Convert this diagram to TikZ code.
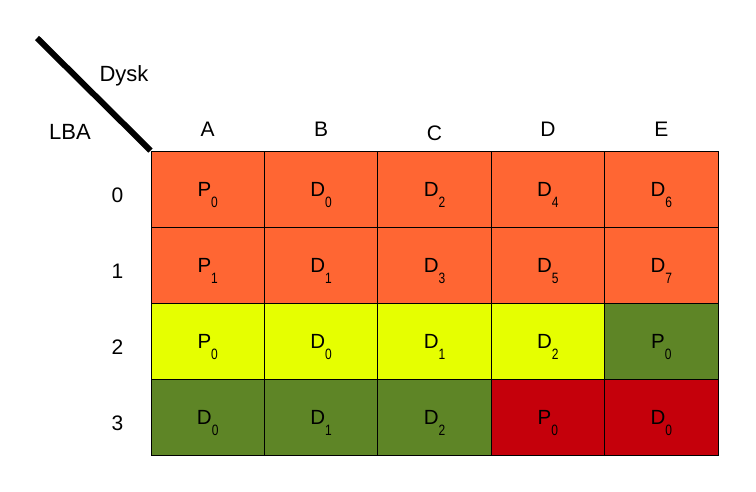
\documentclass[tikz,border=0pt]{standalone}
\usepackage{fontspec}
\setmainfont{Liberation Sans}
\usepackage{xcolor}
\usetikzlibrary{positioning}

\definecolor{raidorange}{HTML}{FF6633}
\definecolor{raidyellow}{HTML}{E6FF00}
\definecolor{raidgreen}{HTML}{5E8526}
\definecolor{raidred}{HTML}{C5000B}

\tikzset{
    blok/.style={draw=black, line width=0.8pt, minimum width=113.4pt, minimum height=76pt,
        inner sep=0pt, text height=14pt, text depth=0pt, font=\fontsize{20.5}{22}\selectfont},
    naglowek/.style={inner sep=0pt, text height=15pt, text depth=0pt, font=\fontsize{21}{23}\selectfont}
}
\newcommand{\blk}[2]{#1\raisebox{-11pt}{\scalebox{0.8}[1]{\fontsize{15}{16}\selectfont #2}}}

\begin{document}
\begin{tikzpicture}[x=1pt, y=-1pt]
    \useasboundingbox (0,0) rectangle (756,491);

    % bloki dyskow
    \foreach \c/\l/\s in {0/P/0, 1/D/0, 2/D/2, 3/D/4, 4/D/6} {
        \node[blok, fill=raidorange] (b0-\c) at ({151+113.4*(\c+0.5)},189) {\blk{\l}{\s}};
    }
    \foreach \c/\l/\s in {0/P/1, 1/D/1, 2/D/3, 3/D/5, 4/D/7} {
        \node[blok, fill=raidorange] (b1-\c) at ({151+113.4*(\c+0.5)},265) {\blk{\l}{\s}};
    }
    \foreach \c/\l/\s/\k in {0/P/0/raidyellow, 1/D/0/raidyellow, 2/D/1/raidyellow, 3/D/2/raidyellow, 4/P/0/raidgreen} {
        \node[blok, fill=\k] (b2-\c) at ({151+113.4*(\c+0.5)},341) {\blk{\l}{\s}};
    }
    \foreach \c/\l/\s/\k in {0/D/0/raidgreen, 1/D/1/raidgreen, 2/D/2/raidgreen, 3/P/0/raidred, 4/D/0/raidred} {
        \node[blok, fill=\k] (b3-\c) at ({151+113.4*(\c+0.5)},417) {\blk{\l}{\s}};
    }

    % opisy kolumn i wierszy
    \foreach \c/\h/\dy in {0/A/0, 1/B/0, 2/C/-4, 3/D/0, 4/E/0} {
        \node[naglowek, above=14pt of b0-\c, yshift=\dy pt] (k\c) {\h};
    }
    \foreach \r in {0,1,2,3} {
        \node[naglowek, left=27pt of b\r-0, yshift=-6pt] (w\r) {\r};
    }

    % naroznik
    \coordinate (start) at (37,38);
    \draw[line width=6pt] (start) -- (b0-0.north west);
    \node[naglowek, font=\fontsize{22}{24}\selectfont] (dysk) at (124,74) {Dysk};
    \node[naglowek, font=\fontsize{22}{24}\selectfont] (lba) at (70,132) {LBA};
\end{tikzpicture}
\end{document}
